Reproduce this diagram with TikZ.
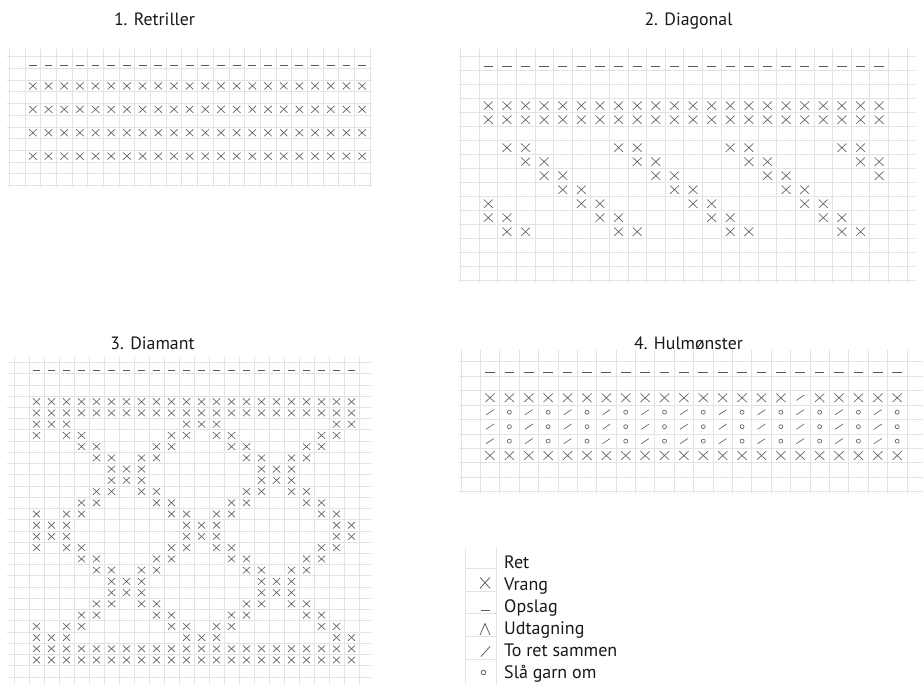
\documentclass[tikz,border=0pt]{standalone}
\usepackage{fontspec}
\setmainfont{PT Sans}
% symbol macros: #1 = column (1-based), #2 = row (0-based), in cell units
\newcommand\sX[2]{\draw[symb] ({#1-0.74},{#2+0.2}) -- ({#1-0.26},{#2+0.8}) ({#1-0.74},{#2+0.8}) -- ({#1-0.26},{#2+0.2});}
\newcommand\sD[2]{\draw[dashsym] ({#1-0.75},{#2+0.73}) -- ({#1-0.25},{#2+0.73});}
\newcommand\sS[2]{\draw[symb] ({#1-0.7},{#2+0.68}) -- ({#1-0.3},{#2+0.32});}
\newcommand\sO[2]{\draw[symb] ({#1-0.5},{#2+0.5}) circle[radius=2pt];}
\begin{document}
\begin{tikzpicture}[x=1pt,y=-1pt,
  gridline/.style={draw=black!11,line width=0.65pt},
  symb/.style={draw=black!62,line width=0.65pt},
  dashsym/.style={draw=black!65,line width=1.0pt},
  title/.style={font=\fontsize{17.8}{21}\selectfont,anchor=base,text=black!90,inner sep=0pt},
  legtext/.style={font=\fontsize{18}{21}\selectfont,anchor=base west,text=black!90,inner sep=0pt}]
\useasboundingbox (0,0) rectangle (923,684);
\fill[white] (0,0) rectangle (923,684);

% titles
\node[title] (t1) at (154.5,26) {1. Retriller};
\node[title] (t2) at (688.5,26) {2. Diagonal};
\node[title] (t3) at (152.5,349) {3. Diamant};
\node[title] (t4) at (688.5,349) {4. Hulmønster};

% ---------- chart 1 ----------
\begin{scope}[shift={(25.0,56.7)},x=15.68pt,y=-11.7pt]
  \foreach \i in {-1,...,22} \draw[gridline] (\i,-0.63) -- (\i,11.15);
  \foreach \j in {0,...,11} \draw[gridline] (-1.17,\j) -- (22.1,\j);
  \foreach \c in {1,...,22} {\sD{\c}{0} \foreach \r in {2,4,6,8} {\sX{\c}{\r}}}
\end{scope}

% ---------- chart 2 ----------
\begin{scope}[shift={(479.0,56.7)},x=18.61pt,y=-14.0pt]
  \foreach \i in {-1,...,23} \draw[gridline] (\i,-0.53) -- (\i,16.2);
  \foreach \j in {0,...,16} \draw[gridline] (-1.1,\j) -- (23.43,\j);
  \foreach \c in {1,...,22} {\sD{\c}{0} \sX{\c}{3} \sX{\c}{4}}
  \foreach \r in {6,...,12} {
    \foreach \c in {1,...,22} {
      \pgfmathtruncatemacro\m{mod(\c-\r+4+60,6)}
      \ifnum\m<2 \sX{\c}{\r}\fi
    }
  }
\end{scope}

% ---------- chart 3 ----------
\begin{scope}[shift={(29.0,362.4)},x=15.0pt,y=-11.23pt]
  \foreach \i in {-1,...,22} \draw[gridline] (\i,-0.5) -- (\i,28.7);
  \foreach \j in {0,...,28} \draw[gridline] (-1.5,\j) -- (22.8,\j);
  \foreach \c in {1,...,22} {\sD{\c}{0}}
  \foreach \r/\t in {3/0,4/0,5/1,6/2,7/3,8/4,9/5,10/5,11/4,12/3,13/2,14/1,
                     15/1,16/2,17/3,18/4,19/5,20/5,21/4,22/3,23/2,24/1,25/0,26/0} {
    \foreach \c in {1,...,22} {
      \pgfmathtruncatemacro\m{mod(\c,10)}
      \pgfmathtruncatemacro\hit{(\t==0) || (\t==1 && \m>=1 && \m<=3)
        || (\t==2 && (\m==0 || \m==1 || \m==3 || \m==4))
        || (\t==3 && (\m==0 || \m==4 || \m==5 || \m==9))
        || (\t==4 && (\m==5 || \m==6 || \m==8 || \m==9))
        || (\t==5 && \m>=6 && \m<=8)}
      \ifnum\hit=1 \sX{\c}{\r}\fi
    }
  }
\end{scope}

% ---------- chart 4 ----------
\begin{scope}[shift={(480.3,361.7)},x=19.39pt,y=-14.44pt]
  \foreach \i in {-1,...,23} \draw[gridline] (\i,-0.81) -- (\i,9.1);
  \foreach \j in {0,...,9} \draw[gridline] (-1.1,\j) -- (23,\j);
  \foreach \c in {1,...,22} {\sD{\c}{0} \sX{\c}{6}}
  \foreach \c in {1,...,16,18,19,20,21,22} {\sX{\c}{2}}
  \sS{17}{2}
  \foreach \r in {3,4,5} {
    \foreach \c in {1,3,...,21} {\sS{\c}{\r}}
    \foreach \c in {2,4,...,22} {\sO{\c}{\r}}
  }
\end{scope}

% ---------- legend ----------
\draw[gridline] (465,548) -- (465,684);
\draw[gridline] (496.5,548) -- (496.5,684);
\foreach \y in {568.5,591.1,613.7,636.3,658.9} \draw[gridline] (465,\y) -- (496.5,\y);
\draw[symb,line width=0.8pt] (480,577.3) -- (490,588.3) (480,588.3) -- (490,577.3);
\draw[dashsym] (481,610) -- (490,610);
\draw[symb,line width=0.8pt] (480,635) -- (485,623.5) -- (490,635);
\draw[symb,line width=0.8pt] (481,656.5) -- (490,646.5);
\draw[symb,line width=0.8pt] (483.5,672.5) circle[radius=2.3pt];
\node[legtext] (l1) at (504,568) {Ret};
\node[legtext] (l2) at (504,590) {Vrang};
\node[legtext] (l3) at (504,612) {Opslag};
\node[legtext] (l4) at (504,634.3) {Udtagning};
\node[legtext] (l5) at (504,656.5) {To ret sammen};
\node[legtext] (l6) at (504,678.5) {Slå garn om};
\end{tikzpicture}
\end{document}
